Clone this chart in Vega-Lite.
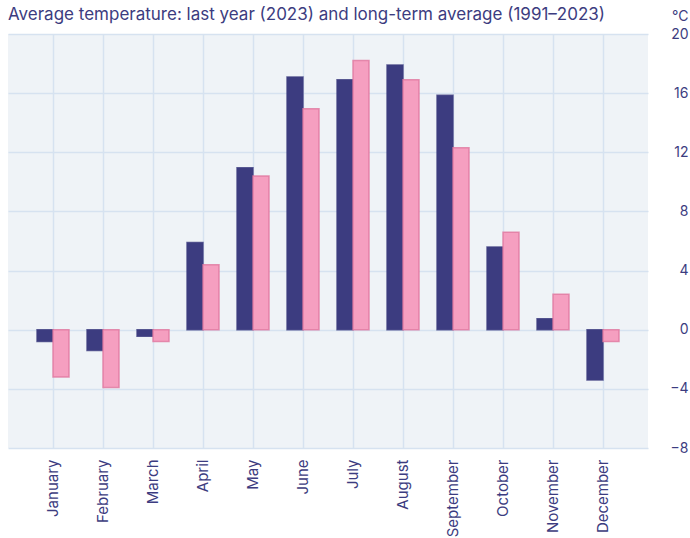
{
  "$schema": "https://vega.github.io/schema/vega-lite/v6.json",
  "width": 640,
  "height": 414,
  "autosize": "none",
  "padding": {"left": 8, "top": 34, "right": 42, "bottom": 90},
  "background": "white",
  "config": {
    "font": "Inter",
    "view": {"fill": "#eff3f7", "stroke": null}
  },
  "title": {
    "text": "Average temperature: last year (2023) and long-term average (1991–2023)",
    "anchor": "start",
    "frame": "group",
    "fontSize": 17,
    "fontWeight": "normal",
    "color": "#3c3c80",
    "offset": -15
  },
  "data": {
    "values": [
      {"month": "January", "series": "2023", "temp": -0.8},
      {"month": "January", "series": "1991–2023", "temp": -3.2},
      {"month": "February", "series": "2023", "temp": -1.4},
      {"month": "February", "series": "1991–2023", "temp": -3.9},
      {"month": "March", "series": "2023", "temp": -0.45},
      {"month": "March", "series": "1991–2023", "temp": -0.8},
      {"month": "April", "series": "2023", "temp": 5.9},
      {"month": "April", "series": "1991–2023", "temp": 4.4},
      {"month": "May", "series": "2023", "temp": 10.95},
      {"month": "May", "series": "1991–2023", "temp": 10.4},
      {"month": "June", "series": "2023", "temp": 17.1},
      {"month": "June", "series": "1991–2023", "temp": 14.95},
      {"month": "July", "series": "2023", "temp": 16.9},
      {"month": "July", "series": "1991–2023", "temp": 18.2},
      {"month": "August", "series": "2023", "temp": 17.9},
      {"month": "August", "series": "1991–2023", "temp": 16.9},
      {"month": "September", "series": "2023", "temp": 15.85},
      {"month": "September", "series": "1991–2023", "temp": 12.3},
      {"month": "October", "series": "2023", "temp": 5.6},
      {"month": "October", "series": "1991–2023", "temp": 6.6},
      {"month": "November", "series": "2023", "temp": 0.75},
      {"month": "November", "series": "1991–2023", "temp": 2.4},
      {"month": "December", "series": "2023", "temp": -3.4},
      {"month": "December", "series": "1991–2023", "temp": -0.8}
    ]
  },
  "encoding": {
    "x": {
      "field": "month",
      "type": "nominal",
      "sort": null,
      "scale": {"paddingInner": 0.36, "paddingOuter": 0.58},
      "axis": {
        "title": null,
        "labelAngle": -90,
        "labelAlign": "right",
        "labelBaseline": "middle",
        "labelPadding": 11,
        "labelFontSize": 15,
        "labelColor": "#3c3c80",
        "ticks": false,
        "domain": false,
        "grid": true,
        "gridColor": "#d6e2f0",
        "gridWidth": 1.5
      }
    }
  },
  "layer": [
    {
      "mark": {"type": "bar", "strokeWidth": 1.5, "strokeOpacity": 0.8},
      "encoding": {
        "xOffset": {"field": "series", "type": "nominal", "sort": ["2023", "1991–2023"], "scale": {"paddingInner": 0, "paddingOuter": 0}},
        "y": {
          "field": "temp",
          "type": "quantitative",
          "scale": {"domain": [-8, 20], "nice": false},
          "axis": {
            "orient": "right",
            "values": [-8, -4, 0, 4, 8, 12, 16, 20],
            "title": "°C",
            "titleAngle": 0,
            "titleAlign": "right",
            "titleBaseline": "alphabetic",
            "titleX": 40,
            "titleY": -14,
            "titleFontSize": 14,
            "titleFontWeight": "normal",
            "titleColor": "#3c3c80",
            "labelAlign": "right",
            "labelPadding": 40,
            "labelFontSize": 14,
            "labelColor": "#3c3c80",
            "ticks": false,
            "domain": false,
            "grid": true,
            "gridColor": "#d6e2f0",
            "gridWidth": 1.5
          }
        },
        "fill": {
          "field": "series",
          "type": "nominal",
          "scale": {"domain": ["2023", "1991–2023"], "range": ["#3c3c80", "#f59fc0"]},
          "legend": null
        },
        "stroke": {
          "field": "series",
          "type": "nominal",
          "scale": {"domain": ["2023", "1991–2023"], "range": ["#3c3c80", "#e0779f"]},
          "legend": null
        }
      }
    },
    {
      "mark": {"type": "rule", "color": "#111111", "strokeWidth": 2},
      "encoding": {"y": {"datum": 0, "type": "quantitative"}}
    }
  ]
}
